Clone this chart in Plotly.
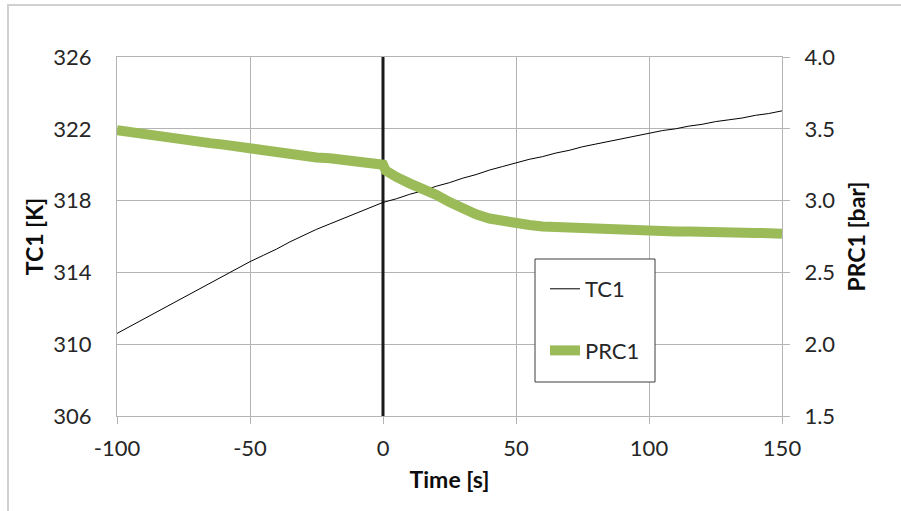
import plotly.graph_objects as go

# Time base [s]
time_tc1 = [-100, -95, -90, -85, -80, -75, -70, -65, -60, -55, -50, -45, -40, -35, -30,
            -25, -20, -15, -10, -5, 0, 5, 10, 15, 20, 25, 30, 35, 40, 45, 50, 55, 60,
            65, 70, 75, 80, 85, 90, 95, 100, 105, 110, 115, 120, 125, 130, 135, 140,
            145, 150]
# Temperature TC1 [K]
tc1 = [310.6, 311.0, 311.4, 311.8, 312.2, 312.6, 313.0, 313.4, 313.8, 314.2, 314.6,
       314.95, 315.3, 315.7, 316.05, 316.4, 316.7, 317.0, 317.3, 317.6, 317.9, 318.1,
       318.35, 318.55, 318.8, 319.0, 319.25, 319.45, 319.7, 319.9, 320.1, 320.3,
       320.45, 320.65, 320.8, 321.0, 321.15, 321.3, 321.45, 321.6, 321.75, 321.9,
       322.0, 322.15, 322.25, 322.4, 322.5, 322.6, 322.75, 322.85, 323.0]

time_prc1 = [-100, -95, -90, -85, -80, -75, -70, -65, -60, -55, -50, -45, -40, -35, -30,
             -25, -20, -15, -10, -5, -1, 0, 1, 3, 5, 10, 15, 20, 25, 30, 35, 40, 45, 50,
             55, 60, 65, 70, 75, 80, 85, 90, 95, 100, 105, 110, 115, 120, 125, 130, 135,
             140, 145, 150]
# Pressure PRC1 [bar]
prc1 = [3.49, 3.475, 3.46, 3.45, 3.44, 3.43, 3.415, 3.40, 3.39, 3.375, 3.365, 3.355,
        3.34, 3.325, 3.315, 3.30, 3.295, 3.285, 3.28, 3.27, 3.265, 3.25, 3.21, 3.18,
        3.165, 3.12, 3.085, 3.04, 2.99, 2.94, 2.905, 2.875, 2.855, 2.84, 2.83, 2.82,
        2.815, 2.81, 2.807, 2.805, 2.80, 2.80, 2.795, 2.79, 2.79, 2.785, 2.785, 2.78,
        2.78, 2.778, 2.776, 2.775, 2.773, 2.77]

event_time = 0
x_ticks = [-100, -50, 0, 50, 100, 150]
x_labels = ["-100", "-50", "0", "50", "100", "150"]
y_ticks = [306, 310, 314, 318, 322, 326]
y2_ticks = [1.5, 2.0, 2.5, 3.0, 3.5, 4.0]

FONT = "Lato, 'Open Sans', sans-serif"
GRID = "#b4b4b4"
TXT = "#262626"
TICK_SIZE = 22
TITLE_SIZE = 23

W, H = 901, 511
ml, mr, mt, mb = 117, 119, 57, 95
pw, ph = W - ml - mr, H - mt - mb


def px_x(p):
    return (p - ml) / pw


def px_y(p):
    return (H - mb - p) / ph


fig = go.Figure()

# event marker at t = 0
fig.add_trace(go.Scatter(x=[event_time, event_time], y=[y_ticks[0], y_ticks[-1]],
                         mode="lines", line=dict(color="#1a1a1a", width=3),
                         showlegend=False, hoverinfo="skip"))

fig.add_trace(go.Scatter(x=time_tc1, y=tc1, name="TC1", mode="lines",
                         line=dict(color="#000000", width=1),
                         legendgroup="a"))
fig.add_trace(go.Scatter(x=time_prc1, y=prc1, name="PRC1", mode="lines", yaxis="y2",
                         line=dict(color="#9bbb59", width=10),
                         legendgroup="b"))

axis_common = dict(showgrid=True, gridcolor=GRID, gridwidth=1, zeroline=False,
                   tickfont=dict(family=FONT, size=TICK_SIZE, color=TXT))
title_font = dict(family=FONT, size=TITLE_SIZE, color="#0d0d0d")

fig.update_layout(
    width=W, height=H,
    margin=dict(l=ml, r=mr, t=mt, b=mb),
    paper_bgcolor="white", plot_bgcolor="white",
    font=dict(family=FONT, color=TXT),
    xaxis=dict(range=[x_ticks[0], x_ticks[-1]], tickvals=x_ticks, ticktext=x_labels,
               ticks="outside", ticklen=7, tickcolor=GRID, ticklabelstandoff=6,
               showline=True, linecolor=GRID, mirror=True,
               title=dict(text="<b>Time [s]</b>", font=title_font, standoff=11),
               **axis_common),
    yaxis=dict(range=[y_ticks[0], y_ticks[-1]], tickvals=y_ticks,
               ticks="", showline=True, linecolor=GRID, mirror=True, ticklabelstandoff=20,
               title=dict(text="<b>TC1 [K]</b>", font=title_font, standoff=3),
               **axis_common),
    yaxis2=dict(range=[y2_ticks[0], y2_ticks[-1]], tickvals=y2_ticks, tickformat=".1f",
                overlaying="y", side="right", showgrid=False, zeroline=False,
                ticks="outside", ticklen=7, tickcolor=GRID, ticklabelstandoff=10,
                tickfont=dict(family=FONT, size=TICK_SIZE, color=TXT),
                title=dict(text="<b>PRC1 [bar]</b>", font=title_font, standoff=14)),
    legend=dict(x=px_x(545), y=px_y(268), xanchor="left", yanchor="top",
                bgcolor="rgba(0,0,0,0)", borderwidth=0,
                font=dict(family=FONT, size=TICK_SIZE, color=TXT),
                traceorder="grouped", tracegroupgap=30, entrywidth=90),
    shapes=[
        # outer chart frame
        dict(type="rect", xref="paper", yref="paper",
             x0=px_x(8), x1=3, y0=-3, y1=px_y(5),
             line=dict(color="#d0d0d0", width=2), layer="below"),
        # legend frame
        dict(type="rect", xref="paper", yref="paper",
             x0=px_x(535), x1=px_x(655), y0=px_y(382), y1=px_y(259),
             line=dict(color="#3c3c3c", width=1), fillcolor="white", layer="above"),
    ],
)

fig.write_html("out.html")
